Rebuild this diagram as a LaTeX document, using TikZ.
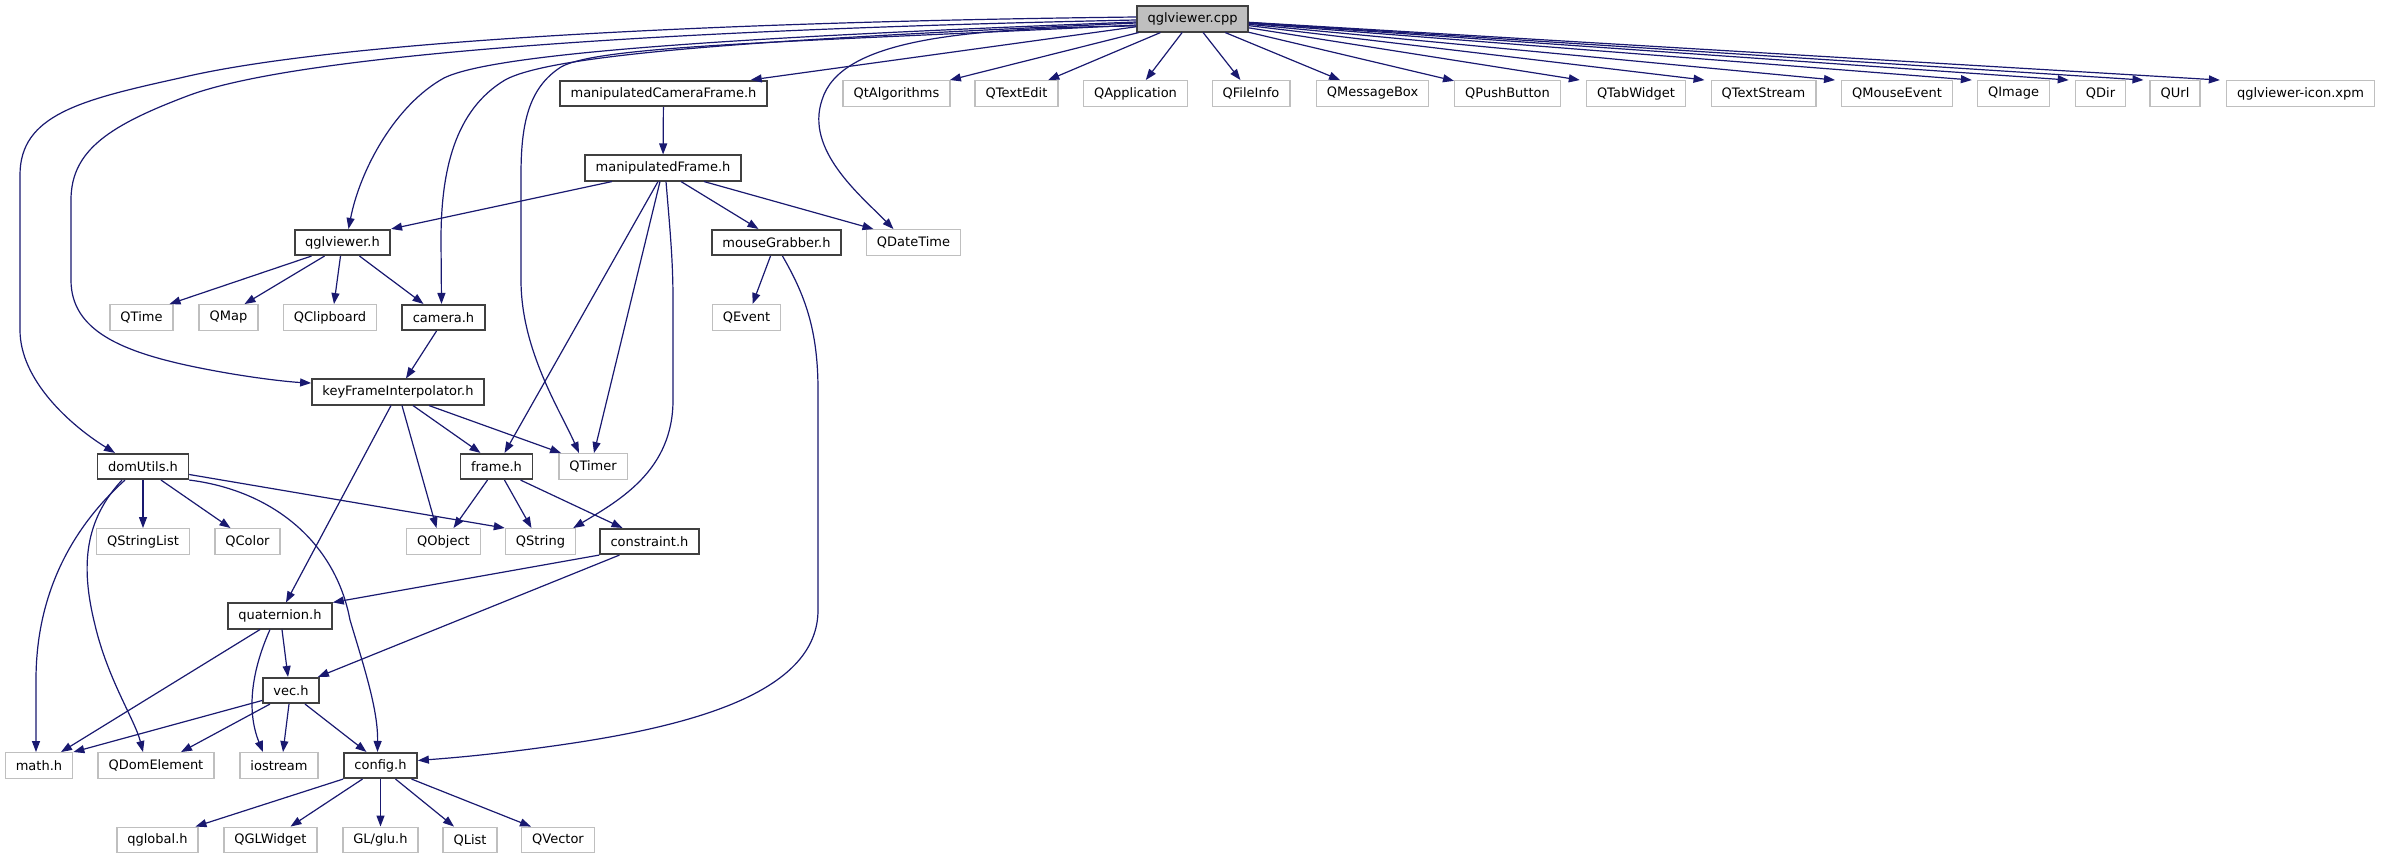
\documentclass[tikz,border=0pt]{standalone}
\usepackage{fontspec}
\setmainfont{DejaVu Sans}
\usetikzlibrary{arrows.meta}

\definecolor{edgeblue}{HTML}{191970}
\definecolor{boxdark}{HTML}{404040}
\definecolor{boxlight}{HTML}{BFBFBF}

\tikzset{
  hdr/.style={draw=boxdark, line width=1.6pt, fill=white, rectangle, minimum height=25.5pt,
    inner xsep=10.5pt, inner ysep=0pt, font=\fontsize{13}{15}\selectfont},
  src/.style={hdr, fill=boxlight},
  sys/.style={hdr, draw=boxlight, line width=1.4pt},
  inc/.style={draw=edgeblue, line width=1.2pt, -{Triangle[length=11pt, width=8pt]}},
}

\begin{document}
\begin{tikzpicture}[x=1pt, y=-1pt]
\useasboundingbox (0, 0) rectangle (2381, 859);

% the source file, top
\node[src] at (1192.5, 19) (cpp) {qglviewer.cpp};

% first row of includes
\node[hdr] at ( 663.5, 93.5) (mcf) {manipulatedCameraFrame.h};
\node[sys] at ( 896.5, 93.5) (qalg) {QtAlgorithms};
\node[sys] at (1016.5, 93.5) (qtedit) {QTextEdit};
\node[sys] at (1135.5, 93.5) (qapp) {QApplication};
\node[sys] at (1251,   93.5) (qfinfo) {QFileInfo};
\node[sys] at (1372.5, 93.5) (qmbox) {QMessageBox};
\node[sys] at (1507.5, 93.5) (qpbtn) {QPushButton};
\node[sys] at (1636,   93.5) (qtabw) {QTabWidget};
\node[sys] at (1763.5, 93.5) (qtstream) {QTextStream};
\node[sys] at (1897,   93.5) (qmevent) {QMouseEvent};
\node[sys] at (2013.5, 93.5) (qimage) {QImage};
\node[sys] at (2100.5, 93.5) (qdir) {QDir};
\node[sys] at (2175,   93.5) (qurl) {QUrl};
\node[sys] at (2300.5, 93.5) (xpm) {qglviewer-icon.xpm};

% frames and viewer
\node[hdr] at (663,   168)   (mf) {manipulatedFrame.h};
\node[hdr] at (342.5, 242.5) (qv) {qglviewer.h};
\node[hdr] at (776.5, 242.5) (mg) {mouseGrabber.h};
\node[sys] at (913.5, 242.5) (qdt) {QDateTime};

\node[sys] at (141.5, 317.5) (qtime) {QTime};
\node[sys] at (228.5, 317.5) (qmap) {QMap};
\node[sys] at (330,   317.5) (qclip) {QClipboard};
\node[hdr] at (443.5, 317.5) (cam) {camera.h};
\node[sys] at (746.5, 317.5) (qev) {QEvent};

\node[hdr] at (398,   392)   (kfi) {keyFrameInterpolator.h};

\node[hdr] at (143,   466.5) (dom) {domUtils.h};
\node[hdr] at (496.5, 466.5) (frm) {frame.h};
\node[sys] at (593,   466.5) (qtimer) {QTimer};

\node[sys] at (143,   541.5) (qsl) {QStringList};
\node[sys] at (247.5, 541.5) (qcol) {QColor};
\node[sys] at (443.5, 541.5) (qobj) {QObject};
\node[sys] at (540.5, 541.5) (qstr) {QString};
\node[hdr] at (649.5, 541.5) (con) {constraint.h};

% math part, bottom
\node[hdr] at (280,   616)   (quat) {quaternion.h};
\node[hdr] at (291,   690.5) (vec) {vec.h};

\node[sys] at ( 39,   765.5) (mh) {math.h};
\node[sys] at (156,   765.5) (qde) {QDomElement};
\node[sys] at (279,   765.5) (ios) {iostream};
\node[hdr] at (380.5, 765.5) (cfg) {config.h};

\node[sys] at (157.5, 840) (qgl) {qglobal.h};
\node[sys] at (270.5, 840) (qglw) {QGLWidget};
\node[sys] at (380.5, 840) (glu) {GL/glu.h};
\node[sys] at (470,   840) (qlist) {QList};
\node[sys] at (558,   840) (qvec) {QVector};

% qglviewer.cpp, first row
\draw[inc] (cpp) -- ([xshift=-17pt]mcf.north east);
\draw[inc] (cpp) -- (qalg);
\draw[inc] (cpp) -- (qtedit);
\draw[inc] (cpp) -- (qapp);
\draw[inc] (cpp) -- (qfinfo);
\draw[inc] (cpp) -- (qmbox);
\draw[inc] (cpp) -- (qpbtn);
\draw[inc] (cpp) -- ([xshift=-6pt]qtabw.north west);
\draw[inc] (cpp) -- ([xshift=-6pt]qtstream.north west);
\draw[inc] (cpp) -- ([xshift=-6pt]qmevent.north west);
\draw[inc] (cpp) -- ([xshift=-5pt]qimage.north west);
\draw[inc] (cpp) -- ([xshift=-6pt]qdir.north west);
\draw[inc] (cpp) -- ([xshift=-6pt]qurl.north west);
\draw[inc] (cpp) -- ([xshift=-6pt]xpm.north west);

% qglviewer.cpp, long ones to the left
\draw[inc] ([yshift=2pt]cpp.west) .. controls (700,22) and (330,42) .. (180,78)
  .. controls (80,100) and (20,115) .. (20,175) -- (20,330)
  .. controls (20,380) and (70,425) .. ([xshift=-28pt]dom.north);
\draw[inc] ([yshift=-1pt]cpp.west) .. controls (650,30) and (300,55) .. (190,95)
  .. controls (110,125) and (71,150) .. (71,200) -- (71,280)
  .. controls (71,330) and (120,352) .. (200,368)
  .. controls (250,378) and (290,382) .. ([yshift=9pt]kfi.west);
\draw[inc] ([yshift=-3pt]cpp.west) .. controls (800,35) and (500,50) .. (444,78)
  .. controls (395,105) and (360,170) .. ([xshift=6pt]qv.north);
\draw[inc] ([yshift=-4pt]cpp.west) .. controls (800,38) and (555,52) .. (505,80)
  .. controls (455,110) and (441,170) .. (441,240) -- ([xshift=-2pt]cam.north);
\draw[inc] ([yshift=-6pt]cpp.west) .. controls (800,42) and (600,45) .. (561,67)
  .. controls (528,88) and (521,125) .. (521,175) -- (521,280)
  .. controls (521,350) and (560,410) .. ([xshift=-14pt]qtimer.north);
\draw[inc] ([yshift=-7pt]cpp.west) .. controls (960,28) and (840,40) .. (822,100)
  .. controls (805,150) and (860,195) .. ([xshift=-20pt]qdt.north);

% manipulated frames
\draw[inc] (mcf) -- (mf);
\draw[inc] ([xshift=-51pt]mf.south) -- (qv.north east);
\draw[inc] ([xshift=18pt]mf.south) -- ([xshift=-18pt]mg.north);
\draw[inc] ([xshift=41pt]mf.south) -- ([xshift=-40pt]qdt.north);
\draw[inc] ([xshift=-5pt]mf.south) -- ([xshift=8pt]frm.north);
\draw[inc] ([xshift=-3pt]mf.south) -- ([xshift=1pt]qtimer.north);
\draw[inc] ([xshift=3pt]mf.south) .. controls (670,230) and (673,260) .. (673,300) -- (673,400)
  .. controls (673,470) and (620,500) .. ([xshift=-3pt]qstr.north east);

% mouseGrabber.h
\draw[inc] ([xshift=-6pt]mg.south) -- ([xshift=6pt]qev.north);
\draw[inc] ([xshift=6pt]mg.south) .. controls (805,295) and (818,330) .. (818,390) -- (818,610)
  .. controls (818,690) and (700,725) .. (560,745)
  .. controls (490,755) and (450,758) .. ([yshift=5pt]cfg.east);

% qglviewer.h and camera.h
\draw[inc] ([xshift=-31pt]qv.south) -- ([xshift=28pt]qtime.north);
\draw[inc] ([xshift=-18pt]qv.south) -- ([xshift=16pt]qmap.north);
\draw[inc] ([xshift=-2pt]qv.south) -- ([xshift=4pt]qclip.north);
\draw[inc] ([xshift=17pt]qv.south) -- ([xshift=-20pt]cam.north);
\draw[inc] ([xshift=-7pt]cam.south) -- ([xshift=8pt]kfi.north);

% keyFrameInterpolator.h
\draw[inc] ([xshift=-7pt]kfi.south) -- ([xshift=6pt]quat.north);
\draw[inc] ([xshift=4pt]kfi.south) -- ([xshift=-7pt]qobj.north);
\draw[inc] ([xshift=15pt]kfi.south) -- ([xshift=-16pt]frm.north);
\draw[inc] ([xshift=31pt]kfi.south) -- ([xshift=3pt]qtimer.north west);

% domUtils.h
\draw[inc] (dom) -- (qsl);
\draw[inc] ([xshift=18pt]dom.south) -- ([xshift=-17pt]qcol.north);
\draw[inc] ([yshift=-8pt]dom.east) -- (qstr.north west);
\draw[inc] ([xshift=-18pt]dom.south) .. controls (75,525) and (36,590) .. (36,680) -- ([xshift=-3pt]mh.north);
\draw[inc] ([xshift=-21pt]dom.south) .. controls (85,520) and (80,565) .. (95,625)
  .. controls (108,680) and (135,720) .. ([xshift=-13pt]qde.north);
\draw[inc] (dom.south east) .. controls (270,490) and (335,540) .. (350,620)
  .. controls (365,670) and (378,710) .. ([xshift=-3pt]cfg.north);

% frame.h and constraint.h
\draw[inc] ([xshift=-9pt]frm.south) -- ([xshift=10pt]qobj.north);
\draw[inc] ([xshift=8pt]frm.south) -- ([xshift=-9pt]qstr.north);
\draw[inc] ([xshift=24pt]frm.south) -- ([xshift=-27pt]con.north);
\draw[inc] (con.south west) -- (quat.north east);
\draw[inc] ([xshift=-30pt]con.south) -- ([xshift=-2pt]vec.north east);

% quaternion.h and vec.h
\draw[inc] ([xshift=2pt]quat.south) -- ([xshift=-3pt]vec.north);
\draw[inc] ([xshift=-20pt]quat.south) -- ([xshift=22pt]mh.north);
\draw[inc] ([xshift=-10pt]quat.south) .. controls (252,670) and (246,710) .. ([xshift=-16pt]ios.north);
\draw[inc] ([yshift=-10pt]vec.west) -- (mh.north east);
\draw[inc] ([xshift=-21pt]vec.south) -- ([xshift=25pt]qde.north);
\draw[inc] ([xshift=-2pt]vec.south) -- ([xshift=4pt]ios.north);
\draw[inc] ([xshift=14pt]vec.south) -- ([xshift=-14pt]cfg.north);

% config.h
\draw[inc] (cfg.south west) -- ([xshift=38pt]qgl.north);
\draw[inc] ([xshift=-18pt]cfg.south) -- ([xshift=20pt]qglw.north);
\draw[inc] (cfg) -- (glu);
\draw[inc] ([xshift=15pt]cfg.south) -- ([xshift=-16pt]qlist.north);
\draw[inc] ([xshift=31pt]cfg.south) -- ([xshift=-27pt]qvec.north);

\end{tikzpicture}
\end{document}
